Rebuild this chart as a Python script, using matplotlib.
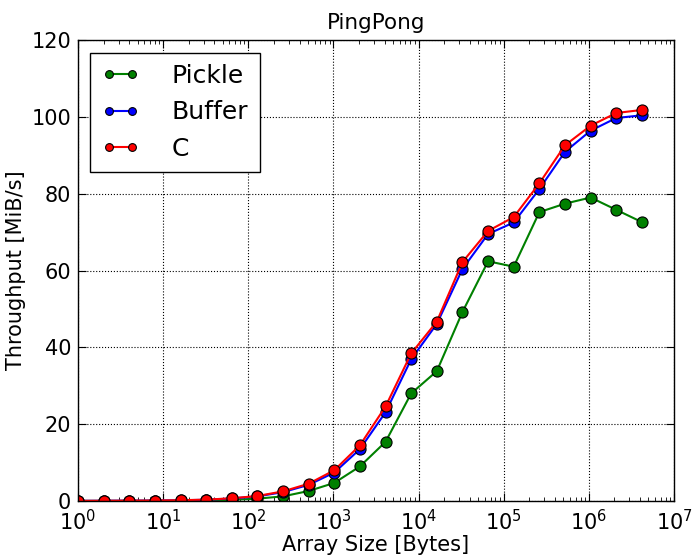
import matplotlib
matplotlib.use("Agg")
import matplotlib.pyplot as plt
import numpy as np

# array sizes in bytes, 2^0 .. 2^22
sizes = [2 ** i for i in range(23)]

pickle_tp = [0.02, 0.02, 0.03, 0.05, 0.08, 0.15, 0.3, 0.6, 1.2, 2.6, 4.7, 9.0,
             15.4, 28.0, 33.8, 49.2, 62.4, 61.0, 75.2, 77.4, 79.0, 75.8, 72.6]
buffer_tp = [0.03, 0.05, 0.08, 0.1, 0.18, 0.32, 0.65, 1.2, 2.3, 4.2, 7.4, 13.5,
             23.1, 36.9, 46.1, 60.4, 69.5, 72.5, 81.2, 90.9, 96.4, 99.7, 100.4]
c_tp = [0.03, 0.05, 0.08, 0.12, 0.2, 0.35, 0.7, 1.3, 2.5, 4.5, 8.0, 14.5,
        24.6, 38.4, 46.7, 62.2, 70.3, 73.9, 82.7, 92.6, 97.7, 101.0, 101.8]

plt.rcParams['font.family'] = 'DejaVu Sans'
plt.rcParams['font.size'] = 15
plt.rcParams['xtick.labelsize'] = 15
plt.rcParams['ytick.labelsize'] = 15
plt.rcParams['xtick.direction'] = 'in'
plt.rcParams['ytick.direction'] = 'in'
plt.rcParams['xtick.top'] = True
plt.rcParams['ytick.right'] = True
plt.rcParams['xtick.major.size'] = 6
plt.rcParams['ytick.major.size'] = 6
plt.rcParams['xtick.minor.size'] = 3
plt.rcParams['xtick.major.pad'] = 6
plt.rcParams['ytick.major.pad'] = 5

fig = plt.figure(figsize=(6.92, 5.59), dpi=100)
ax = fig.add_axes([0.1127, 0.1038, 0.8613, 0.8246])

for y, col, name in [(pickle_tp, 'green', 'Pickle'),
                     (buffer_tp, 'blue', 'Buffer'),
                     (c_tp, 'red', 'C')]:
    ax.plot(sizes, y, '-o', color=col, lw=1.5, ms=8, mec='black', mew=0.8, label=name)

ax.set_xscale('log')
ax.set_xlim(1, 1e7)
ax.set_ylim(0, 120)
ax.grid(True, which='major', color='black', linestyle=':', linewidth=0.8)
ax.set_xlabel('Array Size [Bytes]', labelpad=0)
ax.set_ylabel('Throughput [MiB/s]', labelpad=4)
ax.set_title('PingPong', fontsize=15.5, pad=8)
for s in ax.spines.values():
    s.set_linewidth(1.0)

leg = ax.legend(loc='upper left', numpoints=2, markerscale=0.7, fancybox=False,
                framealpha=1, edgecolor='black', borderaxespad=0.5,
                handlelength=1.5, handletextpad=1.3, labelspacing=0.5,
                borderpad=0.45, fontsize=18)
leg.get_frame().set_linewidth(1.0)

fig.savefig('out.png', dpi=100)
